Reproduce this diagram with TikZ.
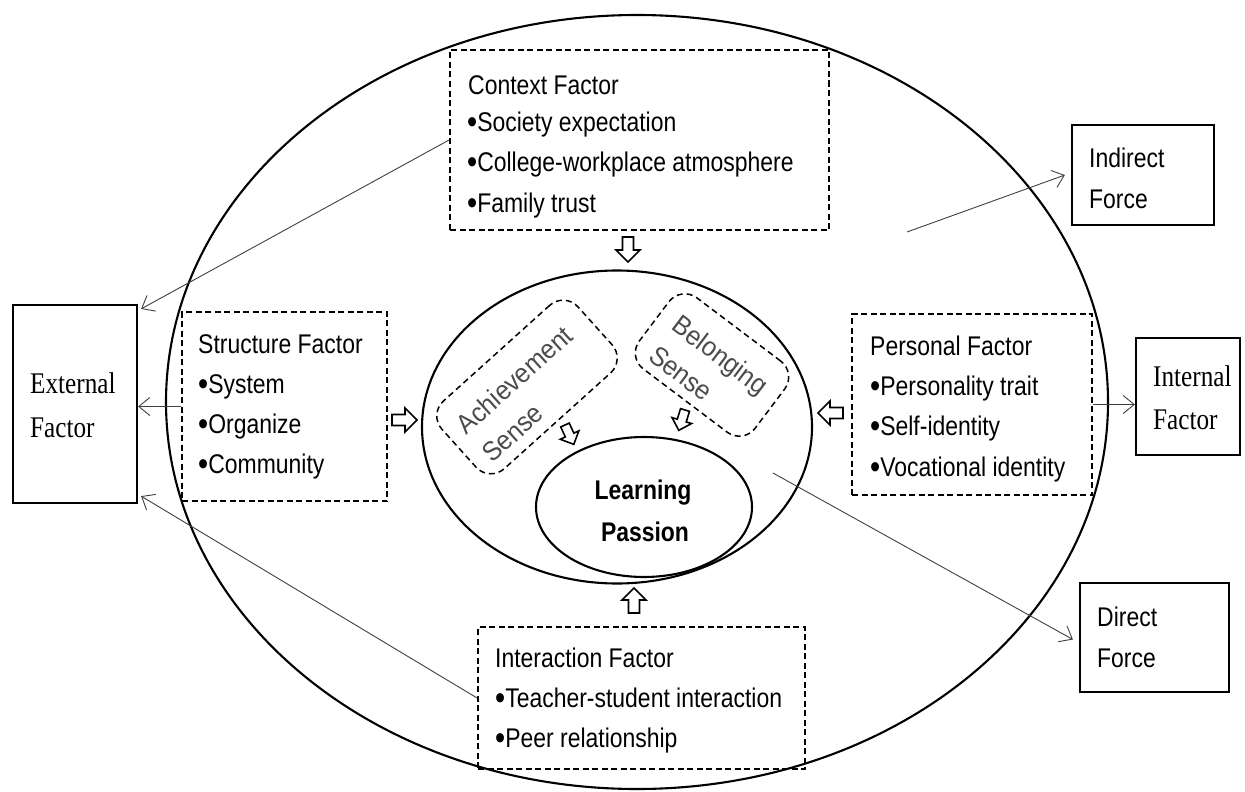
\documentclass[tikz,border=0pt]{standalone}
\usepackage{fontspec}
\usetikzlibrary{arrows.meta,calc,shapes.geometric}
\newfontfamily\sansf[FakeStretch=0.85]{Liberation Sans}
\newfontfamily\sensef[FakeStretch=0.93]{Liberation Sans}
\newfontfamily\seriff[FakeStretch=0.84]{Liberation Serif}
\newcommand\bul{\raisebox{-2.5pt}{\fontsize{34}{37}\selectfont•}}
\newcommand\blkarrow[4]{\draw[blockarr, shift={(#1,#2)}, rotate=#3, scale=#4] (0,-5.5) -- (13,-5.5) -- (13,-12) -- (25,0) -- (13,12) -- (13,5.5) -- (0,5.5) -- cycle;}
\begin{document}
\begin{tikzpicture}[x=1pt,y=-1pt,
  ell/.style={draw, ellipse, line width=2.1pt, inner sep=0pt},
  solidbox/.style={draw, line width=2.2pt, inner sep=0pt},
  dashbox/.style={draw, line width=1.9pt, dash pattern=on 6pt off 3.5pt, inner sep=0pt},
  sensebox/.style={draw, line width=1.5pt, dash pattern=on 6pt off 4pt, rounded corners=20pt, inner sep=0pt},
  txt/.style={font=\sansf\fontsize{27}{37}\selectfont, anchor=base west, inner sep=0pt},
  stxt/.style={font=\seriff\fontsize{30}{40}\selectfont, anchor=base west, inner sep=0pt},
  sensetxt/.style={font=\sensef\fontsize{27}{38}\selectfont, align=left, text=black!70, inner sep=0pt},
  bold/.style={font=\sansf\bfseries\fontsize{27}{37}\selectfont, anchor=base, inner sep=0pt},
  thin/.style={draw=black!75, line width=0.9pt, -{Straight Barb[length=11pt,width=18pt]}},
  blockarr/.style={draw, line width=1.6pt, fill=white, line join=miter}
]
\useasboundingbox (0,0) rectangle (1245,792);

% ellipses
\node[ell, minimum width=942pt, minimum height=774pt] (outer) at (637,402) {};
\node[ell, minimum width=390pt, minimum height=313pt] (mid) at (617,427) {};
\node[ell, minimum width=216pt, minimum height=140pt] (lp) at (644,507) {};

% sense boxes
\node[sensebox, minimum width=183pt, minimum height=91pt, rotate=42] (ach) at (527,387) {};
\node[sensetxt, rotate=42] (achT) at (527,394) {Achievement\\Sense};
\node[sensebox, minimum width=145pt, minimum height=89pt, rotate=-37] (bel) at (712,365) {};
\node[sensetxt, rotate=-37] (belT) at (709,370) {Belonging\\Sense};

% learning passion text
\node[bold] (lp1) at (643,499) {Learning};
\node[bold] (lp2) at (645,541) {Passion};

% factor boxes
\node[dashbox, minimum width=379pt, minimum height=180pt] (ctx) at (639.5,140) {};
\node[txt] (ctx0) at (468,94) {Context Factor};
\node[txt] (ctx1) at (467,131) {\bul Society expectation};
\node[txt] (ctx2) at (467,171) {\bul College-workplace atmosphere};
\node[txt] (ctx3) at (467,212) {\bul Family trust};

\node[dashbox, minimum width=205pt, minimum height=189pt] (str) at (284.5,406.5) {};
\node[txt] (str0) at (198,353) {Structure Factor};
\node[txt] (str1) at (198,393) {\bul System};
\node[txt] (str2) at (198,433) {\bul Organize};
\node[txt] (str3) at (198,473) {\bul Community};

\node[dashbox, minimum width=240pt, minimum height=181pt] (per) at (972,404.5) {};
\node[txt] (per0) at (870,355) {Personal Factor};
\node[txt] (per1) at (870,395) {\bul Personality trait};
\node[txt] (per2) at (870,435) {\bul Self-identity};
\node[txt] (per3) at (870,476) {\bul Vocational identity};

\node[dashbox, minimum width=327pt, minimum height=142pt] (inter) at (641.5,698) {};
\node[txt] (int0) at (495,667) {Interaction Factor};
\node[txt] (int1) at (495,707) {\bul Teacher-student interaction};
\node[txt] (int2) at (495,747) {\bul Peer relationship};

% outer boxes
\node[solidbox, minimum width=124pt, minimum height=198pt] (ext) at (75,404) {};
\node[stxt] (ext1) at (30,393) {External};
\node[stxt] (ext2) at (30,437) {Factor};

\node[solidbox, minimum width=104pt, minimum height=117pt] (ifac) at (1188,396.5) {};
\node[stxt] (if1) at (1153,386) {Internal};
\node[stxt] (if2) at (1153,429) {Factor};

\node[solidbox, minimum width=142pt, minimum height=100pt] (ind) at (1143,175) {};
\node[txt] (ind1) at (1089,167) {Indirect};
\node[txt] (ind2) at (1089,208) {Force};

\node[solidbox, minimum width=149pt, minimum height=109pt] (dir) at (1154.5,637.5) {};
\node[txt] (dir1) at (1097,626) {Direct};
\node[txt] (dir2) at (1097,667) {Force};

% thin connectors
\coordinate (indStart) at (907,232);
\coordinate (dirStart) at (773,473);
\draw[thin] (ctx.west) -- ($(ext.north east)+(3,5)$);
\draw[thin] (str.west) -- (str.west -| ext.east);
\draw[thin] (inter.west) -- ($(ext.south east)+(3,-8)$);
\draw[thin] (per.east) -- (per.east -| ifac.west);
\draw[thin] (indStart) -- ($(ind.west)+(-6,0)$);
\draw[thin] (dirStart) -- ($(dir.west)+(-6,2)$);

% block arrows
\blkarrow{628}{237}{-90}{1}
\blkarrow{634}{613}{90}{1}
\blkarrow{392}{420}{0}{1}
\blkarrow{843}{413}{180}{1}
\blkarrow{565}{425}{-65.6}{0.85}
\blkarrow{685}{410}{-107}{0.85}
\end{tikzpicture}
\end{document}
